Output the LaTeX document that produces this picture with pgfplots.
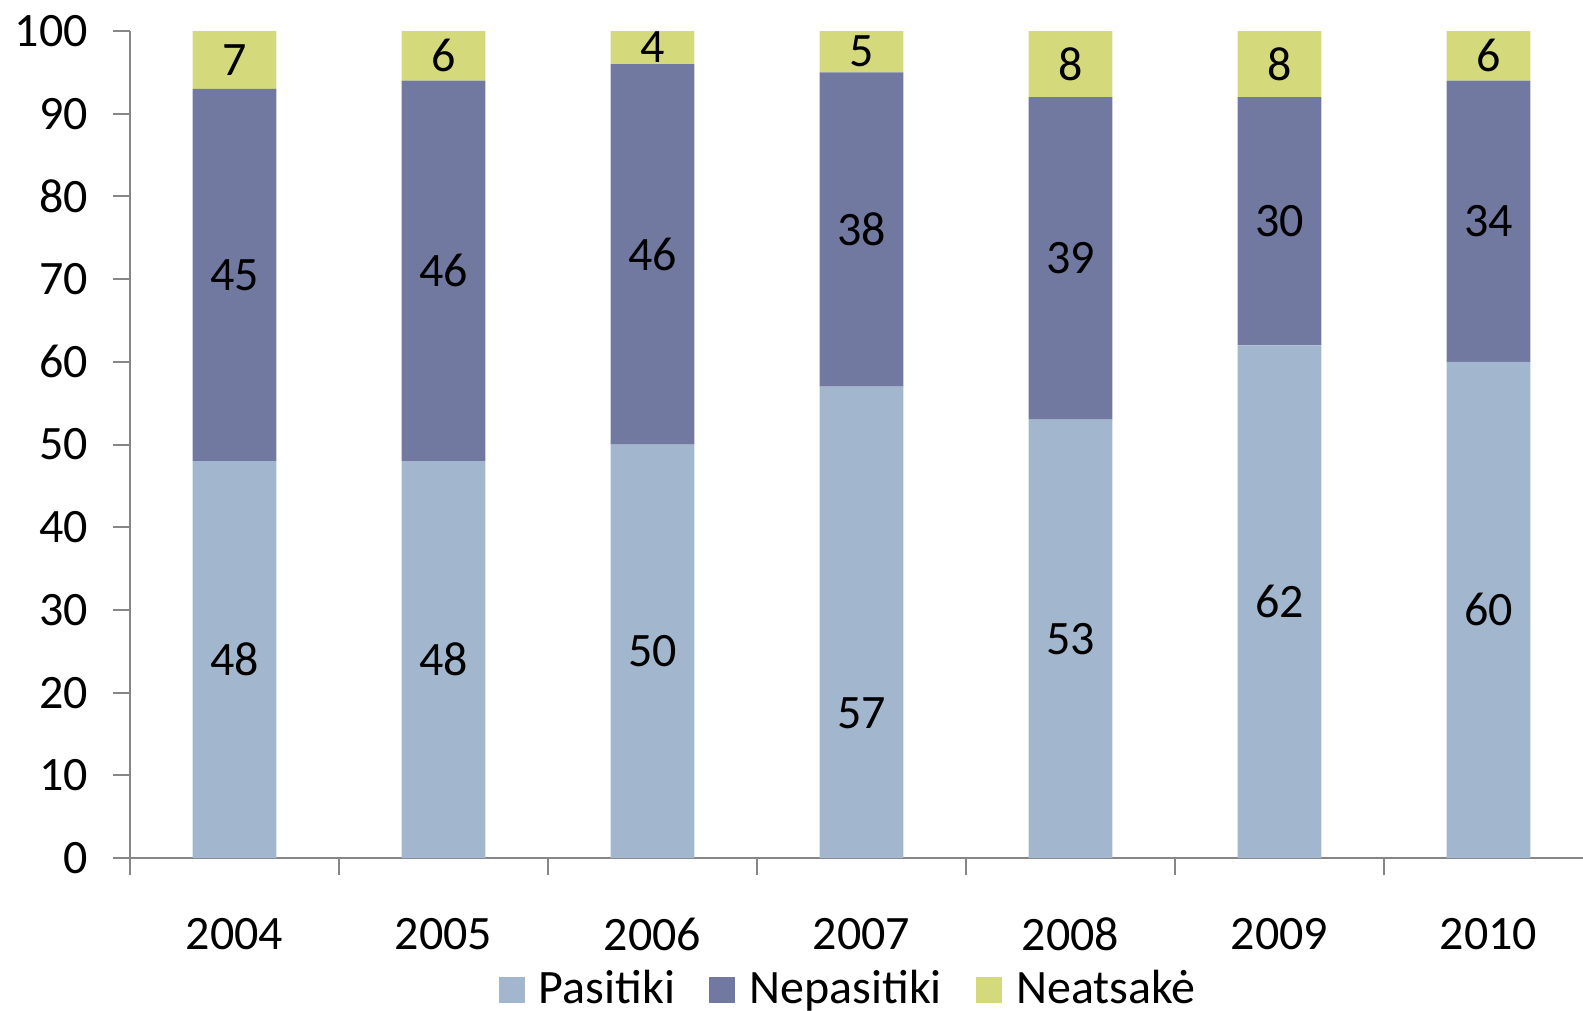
\documentclass[border=0pt]{standalone}
\usepackage{fontspec}
\setmainfont{Carlito}
\usepackage{pgfplots}
\usepackage{pgfplotstable}
\pgfplotsset{compat=1.18}

\definecolor{pasc}{HTML}{A2B7CE}
\definecolor{nepc}{HTML}{7179A0}
\definecolor{neac}{HTML}{D4DA7C}
\definecolor{axc}{HTML}{868686}

% x = year index, y = share (%), dy = label offset from segment centre
\pgfplotstableread{
x y dy
0 48 0
1 48 0
2 50 0
3 57 -11
4 53 0
5 62 0
6 60 0
}\pasitiki
\pgfplotstableread{
x y dy
0 45 0
1 46 0
2 46 0
3 38 0
4 39 0
5 30 0
6 34 0
}\nepasitiki
\pgfplotstableread{
x y dy
0 7 0
1 6 0
2 4 0
3 5 0
4 8 0
5 8 0
6 6 0
}\neatsake

\begin{document}
\begin{tikzpicture}
\begin{axis}[
    at={(0,0)}, anchor=south west,
    scale only axis, width=363.25pt, height=206.75pt,
    ybar stacked, bar width=0.40,
    xmin=-0.5, xmax=6.452, ymin=0, ymax=100,
    enlargelimits=false,
    axis lines*=left,
    axis line style={draw=axc, line width=0.5pt},
    tick style={draw=axc, line width=0.5pt},
    tick align=outside,
    major tick length=4.25pt, minor tick length=4.25pt,
    xtick={0,...,6},
    xticklabels={2004,2005,2006,2007,2008,2009,2010},
    major x tick style={draw=none},
    minor xtick={-0.5,0.5,...,5.5},
    ytick={0,10,...,100},
    /pgf/number format/assume math mode=true,
    ticklabel style={font=\fontsize{12}{14.4}\selectfont},
    yticklabel style={xshift=-2.75pt},
    xticklabel style={yshift=-7.25pt},
    nodes near coords,
    point meta=explicit,
    visualization depends on={\thisrow{dy}*2.0675 \as \lshift},
    every node near coord/.append style={
        font=\fontsize{12}{14.4}\selectfont, text=black, anchor=center,
        yshift=\lshift pt},
    legend columns=-1,
    legend style={draw=none, fill=none, at={(0.4956,0)}, anchor=center,
        yshift=-33pt, font=\fontsize{12}{14.4}\selectfont,
        /tikz/every even column/.append style={column sep=7pt},
        nodes={inner sep=1.5pt}},
    legend image code/.code={\fill[#1] (0pt,-3.3pt) rectangle (6.6pt,3.3pt);
        \path (8.6pt,0pt);},
    clip=false,
]
\addplot[fill=pasc, draw=none] table[x=x, y=y, meta=y] {\pasitiki};
\addlegendentry{Pasitiki}
\addplot[fill=nepc, draw=none] table[x=x, y=y, meta=y] {\nepasitiki};
\addlegendentry{Nepasitiki}
\addplot[fill=neac, draw=none] table[x=x, y=y, meta=y] {\neatsake};
\addlegendentry{Neatsakė}
\end{axis}
\pgfresetboundingbox
\path[use as bounding box] (-32.5pt,-38pt) rectangle (363.25pt,214.5pt);
\end{tikzpicture}
\end{document}
